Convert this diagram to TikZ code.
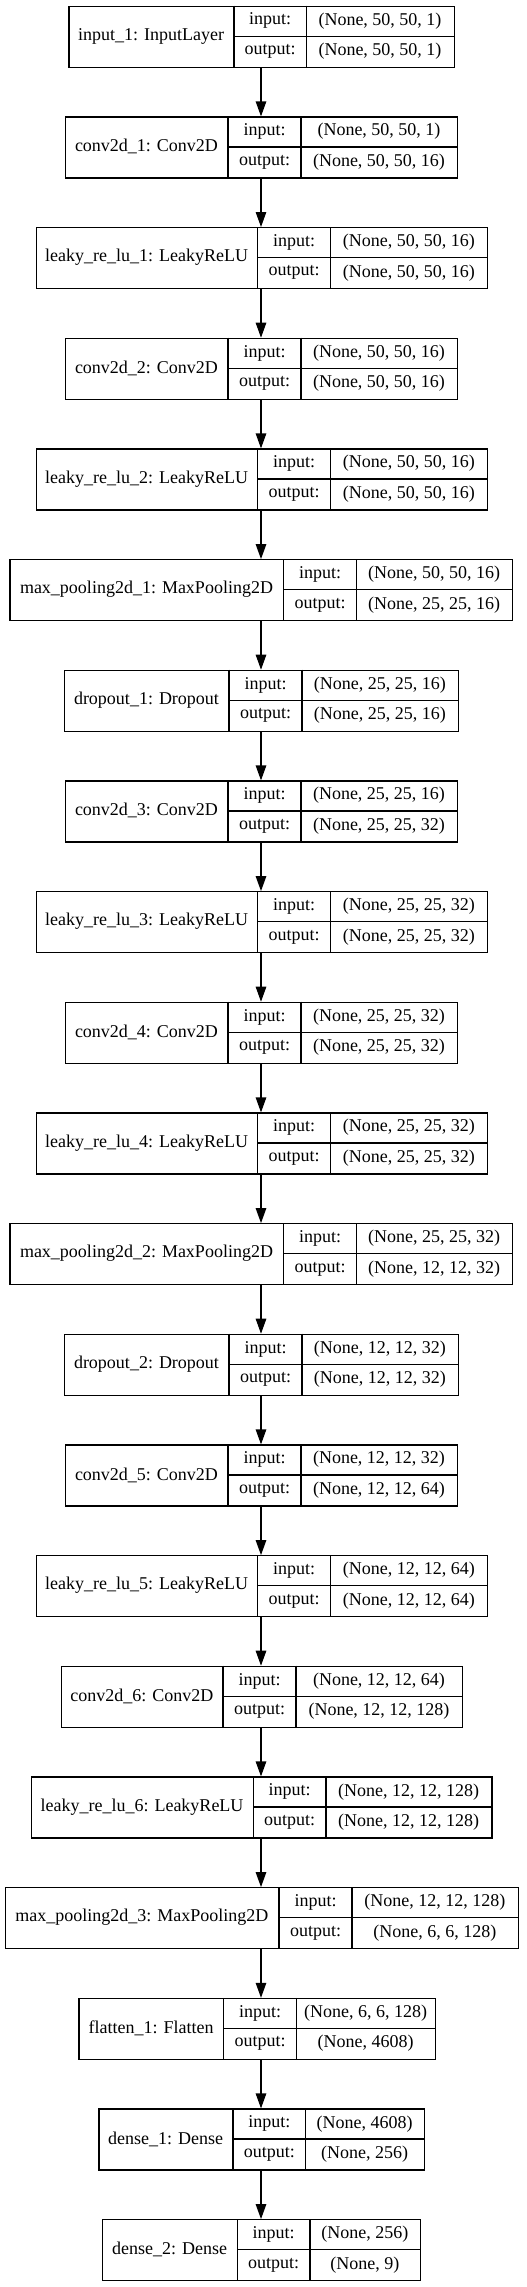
\documentclass[tikz,border=0pt]{standalone}
\usepackage{fontspec}
\setmainfont{Liberation Serif}
\usetikzlibrary{arrows.meta}
\tikzset{
  layerbox/.style={draw, line width=1.2pt, inner sep=0pt, anchor=north west},
  rule/.style={line width=1.2pt},
  celltext/.style={font=\fontsize{18pt}{20pt}\selectfont, inner sep=0pt},
  flow/.style={line width=1.2pt, -{Triangle[length=15pt, width=10.5pt]}}
}
% \layer{name}{top}{left}{split1}{split2}{right}{label}{input shape}{output shape}
\newcommand{\layer}[9]{%
  \node[layerbox, minimum width={(#6-#3)*1pt}, minimum height=61pt] (#1) at (#3, #2) {};
  \draw[rule] (#4, #2) -- (#4, #2+61);
  \draw[rule] (#5, #2) -- (#5, #2+61);
  \draw[rule] (#4, #2+30.5) -- (#6, #2+30.5);
  \node[celltext] at ({(#3+#4)/2}, #2+30.5) {#7};
  \node[celltext] at ({(#4+#5)/2}, #2+15.25) {input:};
  \node[celltext] at ({(#4+#5)/2}, #2+45.75) {output:};
  \node[celltext] at ({(#5+#6)/2}, #2+15.25) {#8};
  \node[celltext] at ({(#5+#6)/2}, #2+45.75) {#9};
}

\begin{document}
\begin{tikzpicture}[x=1pt, y=-1pt]
  \useasboundingbox[fill=white] (0, 0) rectangle (527, 2287);
  \coordinate (spine) at (261, 0);

  \layer{in1}{5.7}{68.3}{234}{306.3}{453.7}{input\_1: InputLayer}{(None, 50, 50, 1)}{(None, 50, 50, 1)}
  \layer{cv1}{116.4}{65}{228}{301}{457}{conv2d\_1: Conv2D}{(None, 50, 50, 1)}{(None, 50, 50, 16)}
  \layer{lr1}{227.0}{35.7}{257.7}{330.7}{487}{leaky\_re\_lu\_1: LeakyReLU}{(None, 50, 50, 16)}{(None, 50, 50, 16)}
  \layer{cv2}{337.7}{65}{228}{301}{457}{conv2d\_2: Conv2D}{(None, 50, 50, 16)}{(None, 50, 50, 16)}
  \layer{lr2}{448.4}{35.7}{257.7}{330.7}{487}{leaky\_re\_lu\_2: LeakyReLU}{(None, 50, 50, 16)}{(None, 50, 50, 16)}
  \layer{mp1}{559.1}{9.3}{283.7}{356.3}{512}{max\_pooling2d\_1: MaxPooling2D}{(None, 50, 50, 16)}{(None, 25, 25, 16)}
  \layer{dr1}{669.7}{64}{229}{302}{457.7}{dropout\_1: Dropout}{(None, 25, 25, 16)}{(None, 25, 25, 16)}
  \layer{cv3}{780.4}{65}{228}{301}{457}{conv2d\_3: Conv2D}{(None, 25, 25, 16)}{(None, 25, 25, 32)}
  \layer{lr3}{891.1}{35.7}{257.7}{330.7}{487}{leaky\_re\_lu\_3: LeakyReLU}{(None, 25, 25, 32)}{(None, 25, 25, 32)}
  \layer{cv4}{1001.7}{65}{228}{301}{457}{conv2d\_4: Conv2D}{(None, 25, 25, 32)}{(None, 25, 25, 32)}
  \layer{lr4}{1112.4}{35.7}{257.7}{330.7}{487}{leaky\_re\_lu\_4: LeakyReLU}{(None, 25, 25, 32)}{(None, 25, 25, 32)}
  \layer{mp2}{1223.1}{9.3}{283.7}{356.3}{512}{max\_pooling2d\_2: MaxPooling2D}{(None, 25, 25, 32)}{(None, 12, 12, 32)}
  \layer{dr2}{1333.7}{64}{229}{302}{457.7}{dropout\_2: Dropout}{(None, 12, 12, 32)}{(None, 12, 12, 32)}
  \layer{cv5}{1444.4}{65}{228}{301}{457}{conv2d\_5: Conv2D}{(None, 12, 12, 32)}{(None, 12, 12, 64)}
  \layer{lr5}{1555.1}{35.7}{257.7}{330.7}{487}{leaky\_re\_lu\_5: LeakyReLU}{(None, 12, 12, 64)}{(None, 12, 12, 64)}
  \layer{cv6}{1665.7}{60.7}{223}{296}{462}{conv2d\_6: Conv2D}{(None, 12, 12, 64)}{(None, 12, 12, 128)}
  \layer{lr6}{1776.4}{30.7}{253.3}{326}{491.3}{leaky\_re\_lu\_6: LeakyReLU}{(None, 12, 12, 128)}{(None, 12, 12, 128)}
  \layer{mp3}{1887.1}{4.7}{279}{352}{517.7}{max\_pooling2d\_3: MaxPooling2D}{(None, 12, 12, 128)}{(None, 6, 6, 128)}
  \layer{fl1}{1997.8}{78.3}{223.7}{296.7}{434.7}{flatten\_1: Flatten}{(None, 6, 6, 128)}{(None, 4608)}
  \layer{dn1}{2108.4}{98.3}{233}{305.7}{423.7}{dense\_1: Dense}{(None, 4608)}{(None, 256)}
  \layer{dn2}{2219.1}{102}{237.3}{310}{419.7}{dense\_2: Dense}{(None, 256)}{(None, 9)}

  % connectors down the spine
  \foreach \a/\b in {in1/cv1, cv1/lr1, lr1/cv2, cv2/lr2, lr2/mp1, mp1/dr1, dr1/cv3,
      cv3/lr3, lr3/cv4, cv4/lr4, lr4/mp2, mp2/dr2, dr2/cv5, cv5/lr5, lr5/cv6,
      cv6/lr6, lr6/mp3, mp3/fl1, fl1/dn1, dn1/dn2}
    \draw[flow] (\a.south -| spine) -- (\b.north -| spine);
\end{tikzpicture}
\end{document}
